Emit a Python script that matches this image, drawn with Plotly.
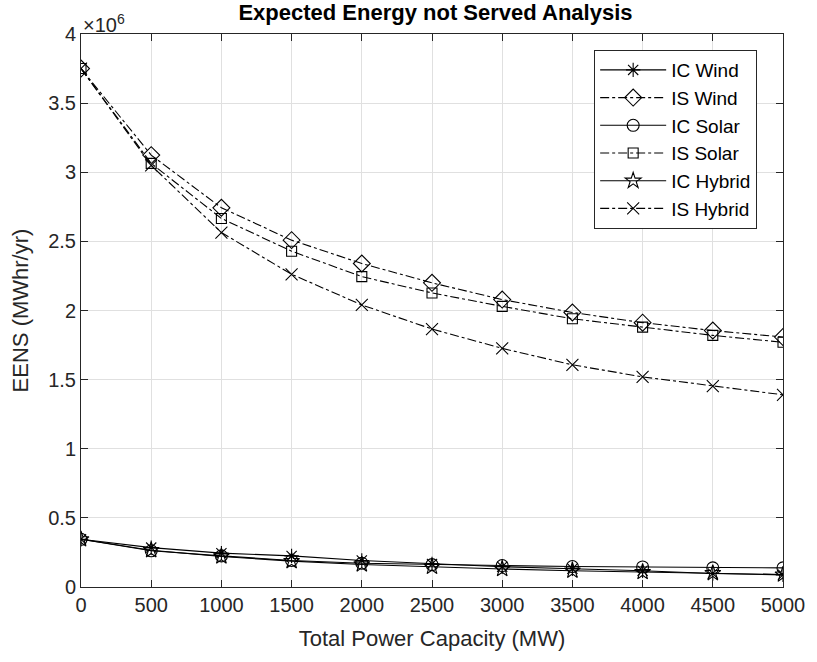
import plotly.graph_objects as go

capacity = [0, 500, 1000, 1500, 2000, 2500, 3000, 3500, 4000, 4500, 5000]

# EENS values in units of 1e6 MWhr/yr
ic_wind = [0.345, 0.285, 0.245, 0.225, 0.192, 0.167, 0.147, 0.132, 0.118, 0.098, 0.088]
is_wind = [3.75, 3.124, 2.743, 2.509, 2.34, 2.20, 2.079, 1.986, 1.912, 1.855, 1.808]
ic_solar = [0.345, 0.262, 0.225, 0.192, 0.172, 0.162, 0.155, 0.148, 0.145, 0.138, 0.138]
is_solar = [3.75, 3.064, 2.666, 2.429, 2.245, 2.127, 2.03, 1.94, 1.88, 1.82, 1.77]
ic_hybrid = [0.345, 0.266, 0.221, 0.187, 0.163, 0.146, 0.13, 0.118, 0.108, 0.1, 0.09]
is_hybrid = [3.75, 3.05, 2.564, 2.262, 2.04, 1.866, 1.726, 1.607, 1.52, 1.453, 1.39]

series = [
    ("IC Wind", ic_wind, "solid", "asterisk-open", 12),
    ("IS Wind", is_wind, "dashdot", "diamond-open", 13),
    ("IC Solar", ic_solar, "solid", "circle-open", 12),
    ("IS Solar", is_solar, "dashdot", "square-open", 10),
    ("IC Hybrid", ic_hybrid, "solid", "star-open", 12),
    ("IS Hybrid", is_hybrid, "dashdot", "x-thin-open", 12),
]

FONT = "Liberation Sans, Arial, Helvetica"

fig = go.Figure()
for name, vals, dash, sym, sz in series:
    fig.add_trace(go.Scatter(
        x=capacity, y=vals, name=name, mode="lines+markers",
        line=dict(color="black", width=1.1, dash=dash),
        marker=dict(symbol=sym, size=sz, color="black",
                    line=dict(color="black", width=1.1)),
    ))

axis_common = dict(
    showline=True, linecolor="#262626", linewidth=1, mirror="allticks",
    ticks="inside", ticklen=7, tickcolor="#262626",
    showgrid=True, gridcolor="#e0e0e0", gridwidth=1, zeroline=False,
    tickfont=dict(family=FONT, size=20, color="#262626"),
)

fig.update_layout(
    width=817, height=662,
    margin=dict(l=81, r=26, t=34, b=75),
    paper_bgcolor="white", plot_bgcolor="white",
    title=dict(text="<b>Expected Energy not Served Analysis</b>",
               x=0.533, xanchor="center", y=0.981, yanchor="middle",
               font=dict(family=FONT, size=22, color="black")),
    xaxis=dict(range=[0, 5000], dtick=500, tick0=0,
               title=dict(text="Total Power Capacity (MW)", standoff=15,
                          font=dict(family=FONT, size=22, color="#262626")),
               **axis_common),
    yaxis=dict(range=[0, 4], dtick=0.5, tick0=0,
               title=dict(text="EENS (MWhr/yr)", standoff=13,
                          font=dict(family=FONT, size=22, color="#262626")),
               **axis_common),
    legend=dict(x=0.731, xanchor="left", y=0.971, yanchor="top",
                bgcolor="white", bordercolor="#262626", borderwidth=1,
                font=dict(family=FONT, size=19, color="black"),
                tracegroupgap=0, itemwidth=66),
    showlegend=True,
)

fig.add_annotation(
    text="×10<sup>6</sup>", xref="paper", yref="paper", x=0.0, y=1.0,
    xanchor="left", yanchor="bottom", showarrow=False, xshift=0, yshift=-4,
    font=dict(family=FONT, size=20, color="#262626"),
)

fig.write_html("out.html")
